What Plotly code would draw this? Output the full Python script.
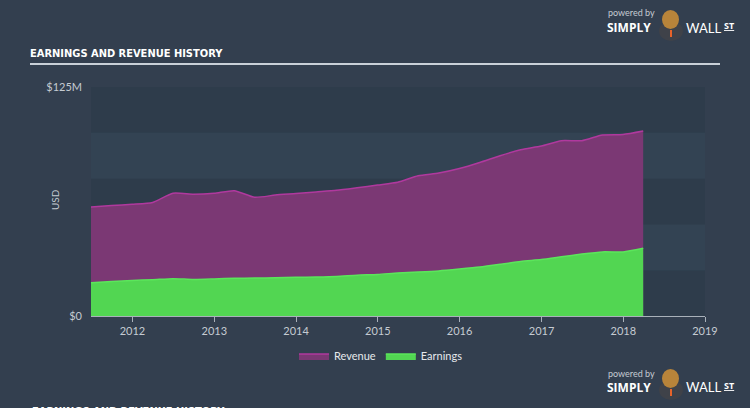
import plotly.graph_objects as go

dates = [
    "2011-06-30", "2011-09-30", "2011-12-31", "2012-03-31", "2012-06-30", "2012-09-30", "2012-12-31",
    "2013-03-31", "2013-06-30", "2013-09-30", "2013-12-31", "2014-03-31", "2014-06-30", "2014-09-30",
    "2014-12-31", "2015-03-31", "2015-06-30", "2015-09-30", "2015-12-31", "2016-03-31", "2016-06-30",
    "2016-09-30", "2016-12-31", "2017-03-31", "2017-06-30", "2017-09-30", "2017-12-31", "2018-03-31",
]
revenue = [59.5, 60.3, 61.0, 62.0, 67.0, 66.5, 67.0, 68.4, 64.8, 66.0, 66.8, 67.7, 68.6, 70.0,
           71.5, 73.0, 76.5, 78.0, 80.5, 83.8, 87.5, 90.8, 92.8, 95.7, 95.7, 98.8, 99.1, 101.0]
earnings = [18.2, 18.8, 19.4, 19.8, 20.4, 19.9, 20.2, 20.6, 20.7, 20.9, 21.1, 21.3, 21.6, 22.3,
            22.7, 23.5, 24.0, 24.6, 25.6, 26.7, 28.2, 29.8, 30.8, 32.3, 33.8, 35.0, 35.0, 37.0]
revenue_m = [v * 1e6 for v in revenue]
earnings_m = [v * 1e6 for v in earnings]

year_ticks = ["2012-01-01", "2013-01-01", "2014-01-01", "2015-01-01", "2016-01-01",
              "2017-01-01", "2018-01-01", "2019-01-01"]
year_labels = ["2012", "2013", "2014", "2015", "2016", "2017", "2018", "2019"]
y_ticks = [0, 125e6]
y_labels = ["$0", "$125M"]
band_edges = [0, 25e6, 50e6, 75e6, 100e6, 125e6]

W, H = 750, 408
L, R, T, B = 91, 45, 87, 92
PW, PH = W - L - R, H - T - B


def px(x):
    return (x - L) / PW


def py(y):
    return (H - B - y) / PH


TITLE_FONT = dict(family="DejaVu Sans Condensed, Liberation Sans Narrow, sans-serif", size=11, color="#ffffff")
SMALL = "Lato, Open Sans, sans-serif"

fig = go.Figure()
fig.add_trace(go.Scatter(
    x=dates, y=revenue_m, name="Revenue", mode="lines", fill="tozeroy",
    line=dict(color="#b0399e", width=1.5, shape="spline", smoothing=0.6),
    fillcolor="#7b3874",
))
fig.add_trace(go.Scatter(
    x=dates, y=earnings_m, name="Earnings", mode="lines", fill="tozeroy",
    line=dict(color="#5be65b", width=1.5, shape="spline", smoothing=0.6),
    fillcolor="#52d652",
))

shapes = []
for i in range(len(band_edges) - 1):
    shapes.append(dict(
        type="rect", xref="paper", yref="y", x0=0, x1=1,
        y0=band_edges[i], y1=band_edges[i + 1], layer="below", line=dict(width=0),
        fillcolor="#2e3c4b" if i % 2 == 0 else "#334353",
    ))
shapes.append(dict(type="line", xref="paper", yref="paper", x0=px(30), x1=px(720),
                   y0=py(64), y1=py(64), line=dict(color="#c9d0d8", width=2)))


def logo(y_pb, y_main):
    ann = [
        dict(text="powered by", x=px(606), y=py(y_pb), xanchor="left", yanchor="middle",
             font=dict(family=SMALL, size=9, color="#c5cbd2")),
        dict(text="<b>SIMPLY</b>", x=px(605), y=py(y_main), xanchor="left", yanchor="middle",
             font=dict(family="Open Sans, Lato, sans-serif", size=12, color="#ffffff")),
        dict(text="WALL", x=px(684), y=py(y_main), xanchor="left", yanchor="middle",
             font=dict(family=SMALL, size=13, color="#ffffff")),
        dict(text="<b><u>ST</u></b>", x=px(722), y=py(y_main - 2), xanchor="left", yanchor="middle",
             font=dict(family="Open Sans, Lato, sans-serif", size=9, color="#ffffff")),
    ]
    d = y_main - 27
    shp = [
        dict(type="circle", xref="paper", yref="paper", x0=px(659), x1=px(683),
             y0=py(40 + d), y1=py(20 + d), fillcolor="#3f4249", line=dict(width=0)),
        dict(type="circle", xref="paper", yref="paper", x0=px(662), x1=px(679),
             y0=py(28 + d), y1=py(9 + d), fillcolor="#b8843a", line=dict(width=0)),
        dict(type="rect", xref="paper", yref="paper", x0=px(670), x1=px(672),
             y0=py(36 + d), y1=py(29 + d), fillcolor="#e8632a", line=dict(width=0)),
    ]
    return ann, shp


annotations = [
    dict(text="USD", x=px(55), y=py(200), xanchor="center", yanchor="middle", textangle=-90,
         font=dict(family=SMALL, size=10, color="#c5cbd2")),
    dict(text="<b>EARNINGS AND REVENUE HISTORY</b>", x=px(30), y=py(403), xanchor="left", yanchor="top",
         font=TITLE_FONT),
]
for yp, ym in [(13, 28), (373, 387)]:
    a, s = logo(yp, ym)
    annotations += a
    shapes += s
for a in annotations:
    a.setdefault("xref", "paper")
    a.setdefault("yref", "paper")
    a.setdefault("showarrow", False)

fig.update_layout(
    width=W, height=H,
    margin=dict(l=L, r=R, t=T, b=B),
    paper_bgcolor="#333f4f",
    plot_bgcolor="#334353",
    title=dict(text="<b>EARNINGS AND REVENUE HISTORY</b>", x=30 / W, y=1 - 53 / H,
               xref="container", yref="container", xanchor="left", yanchor="middle",
               font=TITLE_FONT),
    xaxis=dict(type="date", range=["2011-06-30", "2019-01-01"], tickvals=year_ticks,
               ticktext=year_labels, showgrid=False, zeroline=False, showline=True,
               linecolor="#a9b1ba", linewidth=1, ticks="outside", ticklen=5, tickcolor="#a9b1ba",
               tickfont=dict(family=SMALL, size=11, color="#c5cbd2")),
    yaxis=dict(range=[0, 125e6], tickvals=y_ticks, ticktext=y_labels, showgrid=False,
               zeroline=False, showline=False, ticks="", ticklabelstandoff=8,
               tickfont=dict(family=SMALL, size=11, color="#c5cbd2")),
    legend=dict(orientation="h", x=px(381), y=py(356), xanchor="center", yanchor="middle",
                font=dict(family=SMALL, size=11, color="#e6e9ec"),
                bgcolor="rgba(0,0,0,0)"),
    shapes=shapes,
    annotations=annotations,
    showlegend=True,
)

fig.write_html("out.html", config={"displayModeBar": False},
               post_script="document.body.style.margin='0';document.body.style.overflow='hidden';")
